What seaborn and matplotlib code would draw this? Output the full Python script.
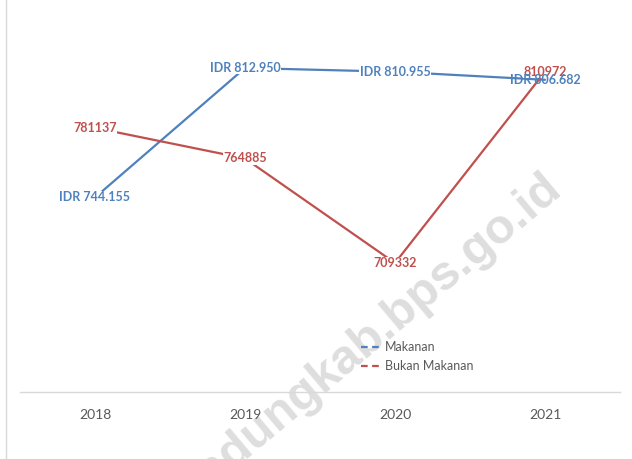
import matplotlib
matplotlib.use("Agg")
import matplotlib.pyplot as plt
from matplotlib.lines import Line2D
import pandas as pd
import seaborn as sns

# ── DATA ──────────────────────────────────────────────────────────────────────
YEARS         = ["2018", "2019", "2020", "2021"]
MAKANAN       = [744155, 812950, 810955, 806682]
BUKAN_MAKANAN = [781137, 764885, 709332, 810972]
SERIES        = ["Makanan", "Bukan Makanan"]

BLUE  = "#4F81BD"
RED   = "#C0504D"
GREY  = "#595959"

W, H = 632, 459

df = pd.DataFrame({
    "tahun": YEARS * 2,
    "nilai": MAKANAN + BUKAN_MAKANAN,
    "seri":  [SERIES[0]] * len(YEARS) + [SERIES[1]] * len(YEARS),
})

sns.set_theme(style="white")
plt.rcParams["font.family"] = ["Lato", "DejaVu Sans"]

fig = plt.figure(figsize=(W / 100, H / 100), dpi=100)
# plot area in pixels: x 20..620, y 20..392 (from top)
ax = fig.add_axes([20 / W, 1 - 392 / H, 600 / W, 372 / H])
ax.set_facecolor("none")  # let the watermark show through

sns.lineplot(data=df, x="tahun", y="nilai", hue="seri", hue_order=SERIES,
             palette=[BLUE, RED], linewidth=1.6, sort=False, legend=False, ax=ax)

ax.set_xlim(-0.5, 3.5)
ax.set_ylim(640790, 838455)
ax.set_xlabel(""); ax.set_ylabel("")
ax.set_yticks([])
ax.tick_params(axis="x", length=0, pad=12, labelsize=10, labelcolor=GREY)
for s in ["top", "right", "left"]:
    ax.spines[s].set_visible(False)
ax.spines["bottom"].set_color("#D9D9D9")
ax.spines["bottom"].set_linewidth(1)

# data labels (white box gives the little gap in the line, as in excel)
box = dict(facecolor="white", edgecolor="none", pad=0.4)
for i, v in enumerate(BUKAN_MAKANAN):
    ax.text(i, v, str(v), ha="center", va="center", fontsize=9, fontweight="bold",
            color=RED, bbox=box, zorder=5)
for i, v in enumerate(MAKANAN):
    txt = "IDR " + f"{v:,}".replace(",", ".")
    ax.text(i, v, txt, ha="center", va="center", fontsize=9, fontweight="bold",
            color=BLUE, bbox=box if i < 3 else None, zorder=6)

# legend
handles = [Line2D([], [], color=c, lw=1.6, ls=(0, (3, 2))) for c in [BLUE, RED]]
fig.legend(handles, SERIES, loc="upper left", bbox_to_anchor=(350 / W, 1 - 330 / H),
           frameon=False, fontsize=9, labelcolor=GREY, handlelength=1.7,
           handletextpad=0.2, labelspacing=0.55)

# watermark, behind the axes
fig.text(563 / W, 1 - 191 / H, "bandungkab.bps.go.id", rotation=40,
         rotation_mode="anchor", ha="right", va="baseline", fontsize=35,
         fontweight="bold", family="Liberation Sans", color="#DEDEDE", zorder=-1)

# chart frame (left edge)
fig.add_artist(Line2D([6 / W, 6 / W], [0, 1], color="#D9D9D9", lw=1))

fig.savefig("out.png", dpi=100)
